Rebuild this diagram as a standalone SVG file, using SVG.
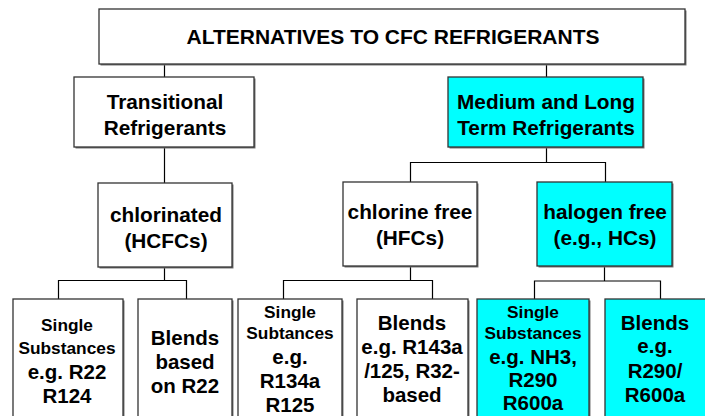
<svg xmlns="http://www.w3.org/2000/svg" width="705" height="416" viewBox="0 0 705 416">
<style>
.box{fill:#fff;stroke:#333;stroke-width:1.3}
.cy{fill:#00ffff}
.sh{fill:#777}
text{font-family:"Liberation Sans",Arial,sans-serif;font-weight:bold;fill:#000;text-anchor:middle}
.t1{font-size:21px}
.t2{font-size:20.8px}
.big{font-size:20.5px}
.sm{font-size:17.3px}
.con{fill:none;stroke:#000;stroke-width:1.2}
</style>
<g id="connectors" class="con">
<path d="M164.5 64V77M546.5 64V77"/>
<path d="M164.5 147V183"/>
<path d="M546.5 147V162.5M410.5 182V162.5H605.5V182"/>
<path d="M164.5 267V280.5M58.5 299V280.5H186.5V299"/>
<path d="M410.5 266V280.5M283.5 299V280.5H432.5V299"/>
<path d="M604.5 266V281M534.5 299V281H660.5V299"/>
</g>
<g id="n-root">
<rect class="sh" x="100.5" y="10.5" width="586" height="55"/>
<rect class="box" x="99" y="9" width="586" height="55"/>
<text class="t1" x="393" y="44">ALTERNATIVES TO CFC REFRIGERANTS</text>
</g>
<g id="n-transitional">
<rect class="sh" x="75.5" y="78.5" width="180" height="70"/>
<rect class="box" x="74" y="77" width="180" height="70"/>
<text class="t2" x="165" y="109">Transitional</text>
<text class="t2" x="165" y="135">Refrigerants</text>
</g>
<g id="n-medium">
<rect class="sh" x="449.5" y="78.5" width="195" height="70"/>
<rect class="box cy" x="448" y="77" width="195" height="70"/>
<text class="t2" x="546" y="109">Medium and Long</text>
<text class="t2" x="546" y="135">Term Refrigerants</text>
</g>
<g id="n-chlorinated">
<rect class="sh" x="99.5" y="184.5" width="134" height="84"/>
<rect class="box" x="98" y="183" width="134" height="84"/>
<text class="t2" x="166" y="222">chlorinated</text>
<text class="t2" x="166" y="248">(HCFCs)</text>
</g>
<g id="n-chlorinefree">
<rect class="sh" x="344.5" y="183.5" width="134" height="84"/>
<rect class="box" x="343" y="182" width="134" height="84"/>
<text class="t2" x="410" y="219">chlorine free</text>
<text class="t2" x="410" y="245">(HFCs)</text>
</g>
<g id="n-halogenfree">
<rect class="sh" x="538.5" y="183.5" width="135" height="84"/>
<rect class="box cy" x="537" y="182" width="135" height="84"/>
<text class="t2" x="605" y="219">halogen free</text>
<text class="t2" x="605" y="245">(e.g., HCs)</text>
</g>
<g id="n-hcfc-single">
<rect class="sh" x="14.5" y="300.5" width="110" height="130"/>
<rect class="box" x="13" y="299" width="110" height="130"/>
<text class="sm" x="67" y="331">Single</text>
<text class="sm" x="67" y="354">Substances</text>
<text class="big" x="67" y="379">e.g. R22</text>
<text class="big" x="67" y="403">R124</text>
</g>
<g id="n-hcfc-blends">
<rect class="sh" x="139.5" y="300.5" width="94" height="130"/>
<rect class="box" x="138" y="299" width="94" height="130"/>
<text class="big" x="185" y="345">Blends</text>
<text class="big" x="185" y="369">based</text>
<text class="big" x="185" y="393">on R22</text>
</g>
<g id="n-hfc-single">
<rect class="sh" x="239.5" y="300.5" width="104" height="130"/>
<rect class="box" x="238" y="299" width="104" height="130"/>
<text class="sm" x="290" y="318">Single</text>
<text class="sm" x="290" y="339">Subtances</text>
<text class="big" x="290" y="364">e.g.</text>
<text class="big" x="290" y="388">R134a</text>
<text class="big" x="290" y="412">R125</text>
</g>
<g id="n-hfc-blends">
<rect class="sh" x="358.5" y="300.5" width="111" height="130"/>
<rect class="box" x="357" y="299" width="111" height="130"/>
<text class="big" x="412" y="330">Blends</text>
<text class="big" x="412" y="354">e.g. R143a</text>
<text class="big" x="412" y="378">/125, R32-</text>
<text class="big" x="412" y="402">based</text>
</g>
<g id="n-hc-single">
<rect class="sh" x="478.5" y="300.5" width="112" height="130"/>
<rect class="box cy" x="477" y="299" width="112" height="130"/>
<text class="sm" x="533" y="318">Single</text>
<text class="sm" x="533" y="339">Substances</text>
<text class="big" x="533" y="364">e.g. NH3,</text>
<text class="big" x="533" y="387">R290</text>
<text class="big" x="533" y="410">R600a</text>
</g>
<g id="n-hc-blends">
<rect class="sh" x="606.5" y="300.5" width="111" height="130"/>
<rect class="box cy" x="605" y="299" width="111" height="130"/>
<text class="big" x="655" y="330">Blends</text>
<text class="big" x="655" y="353">e.g.</text>
<text class="big" x="655" y="378">R290/</text>
<text class="big" x="655" y="402">R600a</text>
</g>
</svg>
